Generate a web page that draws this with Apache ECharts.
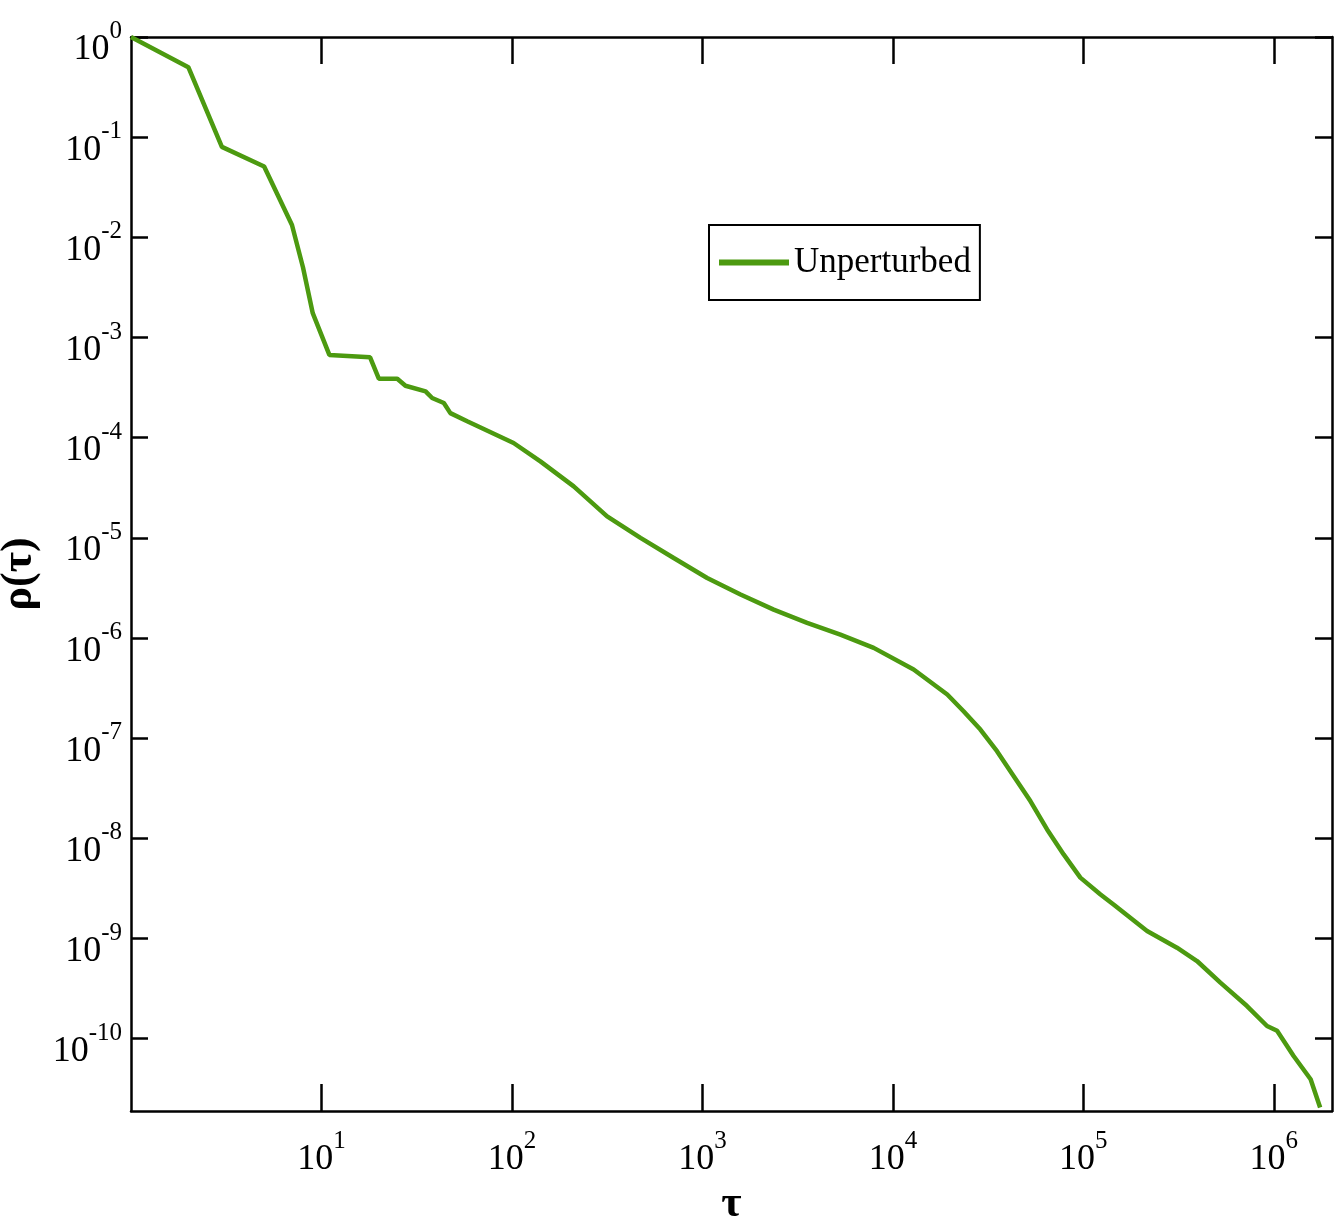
<!DOCTYPE html>
<html>
<head>
<meta charset="utf-8">
<title>ρ(τ) – Unperturbed</title>
<script src="https://cdn.jsdelivr.net/npm/echarts@6/dist/echarts.min.js"></script>
<style>
  html, body { margin: 0; padding: 0; background: #ffffff; }
  #chart { width: 1340px; height: 1219px; }
</style>
</head>
<body>
<div id="chart"></div>
<script>
// Waiting-time distribution ρ(τ), unperturbed run (log–log)
const seriesName = 'Unperturbed';

const tau = [
  1, 2, 3, 5, 7, 8, 9, 11, 18, 20, 25, 27.6, 35.2, 38.1, 43.9, 47.5, 58.2,
  102, 141, 211, 316, 473, 707, 1059, 1585, 2366, 3545, 5300, 7930,
  12850, 19300, 23500, 28800, 35200, 43100, 52700, 64500, 78800, 96400,
  123000, 144000, 216000, 310000, 395000, 524000, 723000, 921000,
  1040000, 1270000, 1560000, 1750000
];

const rho = [
  1, 0.5, 0.08, 0.051, 0.0133, 0.0050, 0.00175, 6.7e-4, 6.35e-4, 3.88e-4,
  3.88e-4, 3.3e-4, 2.9e-4, 2.49e-4, 2.22e-4, 1.76e-4, 1.46e-4,
  8.85e-5, 5.8e-5, 3.27e-5, 1.64e-5, 1.0e-5, 6.3e-6, 3.98e-6, 2.72e-6,
  1.92e-6, 1.42e-6, 1.08e-6, 7.98e-7,
  4.85e-7, 2.73e-7, 1.86e-7, 1.22e-7, 7.43e-8, 4.18e-8, 2.36e-8, 1.23e-8,
  6.92e-9, 4.06e-9,
  2.76e-9, 2.19e-9, 1.19e-9, 8.1e-10, 5.97e-10, 3.63e-10, 2.12e-10, 1.34e-10,
  1.2e-10, 6.73e-11, 3.94e-11, 2.06e-11
];

// axis ranges and labelled decades
const tauRange = [1, 2.02e6];
const rhoRange = [1.9e-11, 1];
const tauTicks = [1e1, 1e2, 1e3, 1e4, 1e5, 1e6];
const rhoTicks = [1e-10, 1e-9, 1e-8, 1e-7, 1e-6, 1e-5, 1e-4, 1e-3, 1e-2, 1e-1, 1];

const SERIF = "'Liberation Serif', 'Times New Roman', serif";
const INK = '#000000';
const LINE = '#4c9a10';

// decade labels written as 10 with a raised exponent
function decadeLabel(v) {
  const lg = Math.log10(v);
  const k = Math.round(lg);
  if (Math.abs(lg - k) > 1e-6) return '';
  return '{b|10}{e|' + k + '}';
}
const richDecade = {
  b: { fontSize: 36, lineHeight: 36, padding: [26, 0, 0, 0], fontFamily: SERIF, color: INK },
  e: { fontSize: 25, lineHeight: 25, verticalAlign: 'top', fontFamily: SERIF, color: INK }
};

const axisLineStyle = { show: true, onZero: false, lineStyle: { color: INK, width: 2.5 } };

function xAxisDef(pos, withLabels) {
  return {
    type: 'log', logBase: 10, position: pos,
    min: tauRange[0], max: tauRange[1],
    axisLine: axisLineStyle,
    axisTick: {
      show: true, inside: true, length: 27, customValues: tauTicks,
      lineStyle: { color: INK, width: 2.5 }
    },
    minorTick: { show: false },
    splitLine: { show: false },
    axisLabel: withLabels
      ? { show: true, margin: 18, customValues: tauTicks, formatter: decadeLabel, rich: richDecade }
      : { show: false },
    name: withLabels ? 'τ' : '',
    nameLocation: 'middle',
    nameGap: 70,
    nameTextStyle: { fontSize: 44, fontFamily: SERIF, fontWeight: 'bold', color: INK }
  };
}
function yAxisDef(pos, withLabels) {
  return {
    type: 'log', logBase: 10, position: pos,
    min: rhoRange[0], max: rhoRange[1],
    axisLine: axisLineStyle,
    axisTick: {
      show: true, inside: true, length: 17, customValues: rhoTicks,
      lineStyle: { color: INK, width: 2.5 }
    },
    minorTick: { show: false },
    splitLine: { show: false },
    axisLabel: withLabels
      ? { show: true, margin: 9, customValues: rhoTicks, formatter: decadeLabel, rich: richDecade }
      : { show: false },
    name: withLabels ? 'ρ(τ)' : '',
    nameLocation: 'middle',
    nameGap: 70,
    nameTextStyle: { fontSize: 44, fontFamily: SERIF, fontWeight: 'bold', color: INK }
  };
}

const chart = echarts.init(document.getElementById('chart'), null, { renderer: 'canvas' });

chart.setOption({
  backgroundColor: '#ffffff',
  animation: false,
  grid: { left: 131, right: 8, top: 37, bottom: 108, outerBoundsMode: 'none' },
  legend: {
    data: [seriesName],
    left: 709, top: 225,
    padding: [20, 9, 20, 10],
    borderColor: INK, borderWidth: 2,
    backgroundColor: '#ffffff',
    icon: 'rect',
    itemWidth: 70, itemHeight: 6,
    textStyle: { fontSize: 35, fontFamily: SERIF, color: INK }
  },
  xAxis: [xAxisDef('bottom', true), xAxisDef('top', false)],
  yAxis: [yAxisDef('left', true), yAxisDef('right', false)],
  series: [{
    name: seriesName,
    type: 'line',
    xAxisIndex: 0, yAxisIndex: 0,
    data: tau.map((t, i) => [t, rho[i]]),
    showSymbol: false,
    lineStyle: { color: LINE, width: 4.5 },
    itemStyle: { color: LINE }
  }]
});
</script>
</body>
</html>
